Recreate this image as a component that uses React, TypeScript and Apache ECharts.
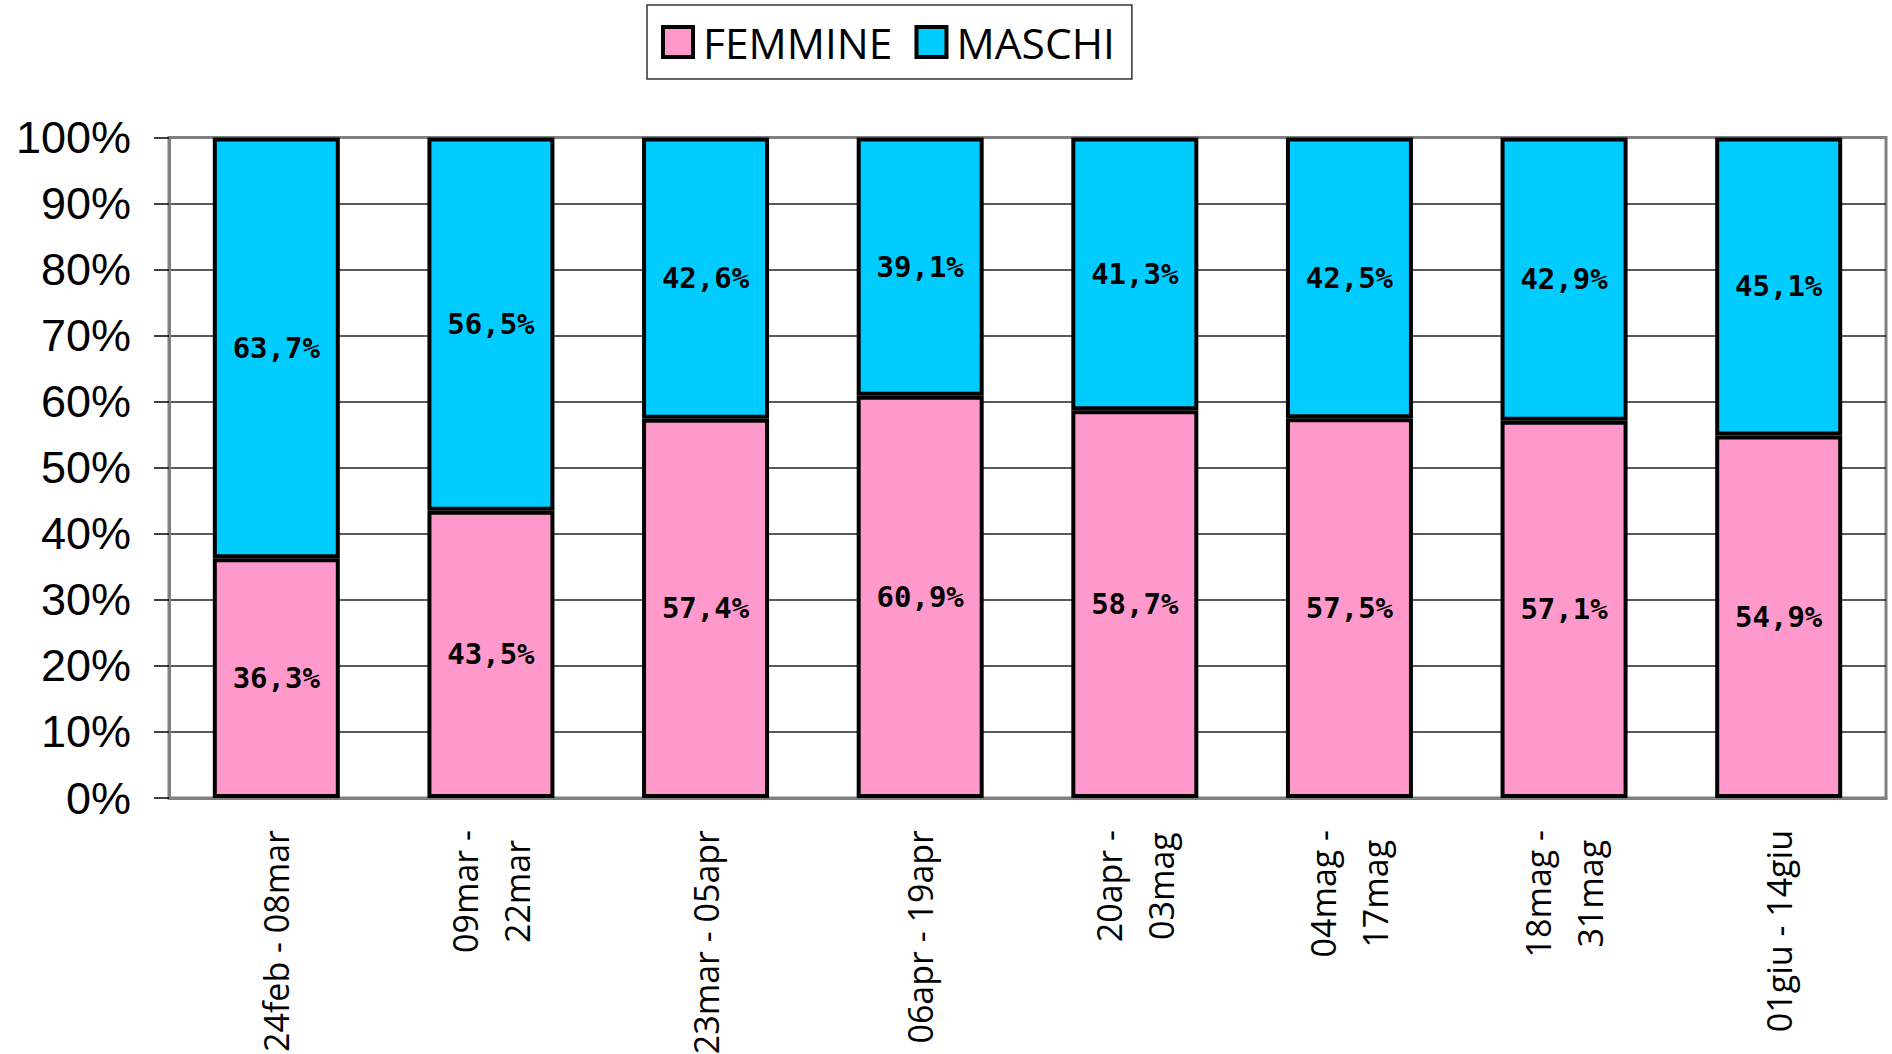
import React, { useEffect, useRef } from "react";
import * as echarts from "echarts";

const categories = [
  "24feb - 08mar",
  "09mar -\n22mar",
  "23mar - 05apr",
  "06apr - 19apr",
  "20apr -\n03mag",
  "04mag -\n17mag",
  "18mag -\n31mag",
  "01giu - 14giu",
];
const femmine = [36.3, 43.5, 57.4, 60.9, 58.7, 57.5, 57.1, 54.9];
const maschi = [63.7, 56.5, 42.6, 39.1, 41.3, 42.5, 42.9, 45.1];
const seriesNames = ["FEMMINE", "MASCHI"];
const colors = ["#FF99CC", "#00CCFF"];

export default function App() {
  const ref = useRef<HTMLDivElement>(null);
  useEffect(() => {
    document.body.style.margin = "0";
    document.body.style.overflow = "hidden";
    const chart = echarts.init(ref.current!, undefined, { renderer: "svg" });
    const labelFmt = (p: any) => String(p.value.toFixed(1)).replace(".", ",") + "%";
    const mkSeries = (name: string, data: number[], color: string) => ({
      name,
      type: "bar",
      stack: "tot",
      data,
      barWidth: 127,
      itemStyle: { color, borderColor: "#000", borderWidth: 4 },
      label: {
        show: true,
        position: "inside",
        formatter: labelFmt,
        fontFamily: "DejaVu Sans Mono",
        fontWeight: "bold",
        fontSize: 29,
        color: "#000",
      },
    });
    chart.setOption({
      animation: false,
      backgroundColor: "#fff",
      legend: {
        data: seriesNames,
        left: 647,
        top: 5,
        padding: [15.5, 17, 15.5, 14],
        borderColor: "#333",
        borderWidth: 1.5,
        itemWidth: 30,
        itemHeight: 30,
        itemGap: 22,
        icon: "rect",
        itemStyle: { borderColor: "#000", borderWidth: 4 },
        textStyle: {
          fontFamily: "Open Sans",
          fontSize: 42.5,
          color: "#000",
          padding: [0, 0, 0, 5],
        },
      },
      grid: {
        left: 169,
        right: 6,
        top: 137.5,
        bottom: 256,
        show: true,
        borderColor: "#808080",
        borderWidth: 3,
        outerBoundsMode: "none",
      },
      xAxis: {
        type: "category",
        data: categories,
        axisLine: { lineStyle: { color: "#808080", width: 3 } },
        axisTick: { length: 14, lineStyle: { color: "#000", width: 1.5 } },
        axisLabel: {
          rotate: 90,
          margin: 32,
          interval: 0,
          formatter: (v: string) =>
            v
              .split("\n")
              .map((l) => "{c|" + l + "}")
              .join("\n"),
          rich: {
            c: {
              align: "center",
              fontFamily: "Open Sans",
              fontSize: 34,
              lineHeight: 52,
              color: "#000",
            },
          },
        },
      },
      yAxis: {
        type: "value",
        min: 0,
        max: 100,
        interval: 10,
        axisLine: { show: true, lineStyle: { color: "#808080", width: 3 } },
        axisTick: { show: true, length: 15, lineStyle: { color: "#000", width: 1.5 } },
        axisLabel: {
          formatter: "{value}%",
          fontFamily: "Liberation Sans",
          fontSize: 45,
          color: "#000",
          margin: 38,
        },
        splitLine: {
          show: true,
          showMinLine: false,
          showMaxLine: false,
          lineStyle: { color: "#222", width: 1.5 },
        },
      },
      series: [
        mkSeries(seriesNames[0], femmine, colors[0]),
        mkSeries(seriesNames[1], maschi, colors[1]),
      ],
    });
    return () => chart.dispose();
  }, []);
  return <div ref={ref} style={{ width: 1892, height: 1054 }} />;
}
